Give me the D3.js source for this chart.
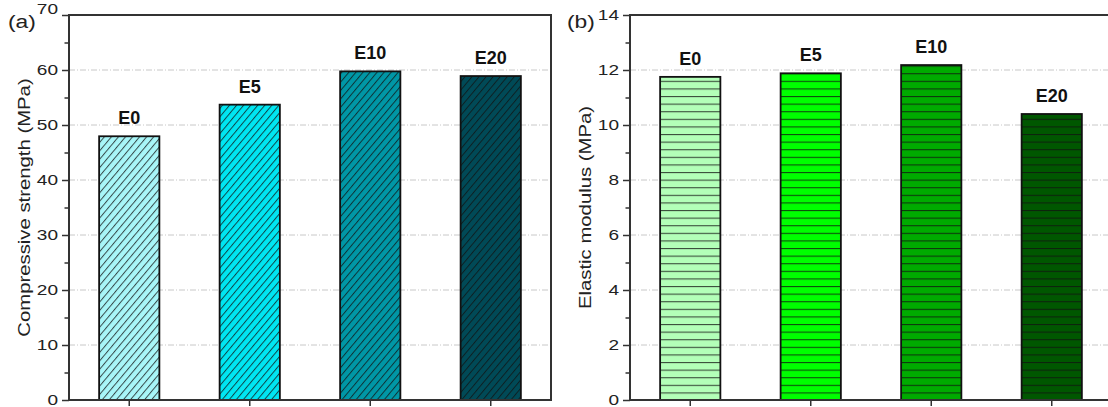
<!DOCTYPE html>
<html>
<head>
<meta charset="utf-8">
<script src="https://cdn.jsdelivr.net/npm/d3@7"></script>
<style>
  html, body { margin: 0; padding: 0; background: #fff; }
  svg { display: block; font-family: Arial, "Liberation Sans", sans-serif; }
</style>
</head>
<body>
<svg id="chart" width="1108" height="407"></svg>
<script>
// Mix designs shared by both panels
const categories = ["E0", "E5", "E10", "E20"];

// Panel (a): compressive strength, MPa
const strengthValues = [47.95, 53.7, 59.75, 58.9];
const strengthTicks = [0, 10, 20, 30, 40, 50, 60, 70];
const strengthColors = ["#a8f6f8", "#00e6f2", "#0097a6", "#004a57"];

// Panel (b): elastic modulus
const modulusValues = [11.75, 11.88, 12.18, 10.4];
const modulusTicks = [0, 2, 4, 6, 8, 10, 12, 14];
const modulusColors = ["#b3ffb8", "#00ff00", "#00ab00", "#005700"];

const FONT = "Arial, 'Liberation Sans', sans-serif";
const STRETCH = 1.27;   // wide setting of the regular-weight text

const svg = d3.select("#chart");
const defs = svg.append("defs");

// Diagonal hatch for panel (a)
const dw = 5.4;
strengthColors.forEach((c, i) => {
  const p = defs.append("pattern")
    .attr("id", "diag" + i)
    .attr("patternUnits", "userSpaceOnUse")
    .attr("width", dw).attr("height", dw)
    .attr("patternTransform", "rotate(40)");
  p.append("rect").attr("width", dw).attr("height", dw).attr("fill", c);
  p.append("line").attr("x1", 0.5).attr("y1", 0).attr("x2", 0.5).attr("y2", dw)
    .attr("stroke", "#111").attr("stroke-width", 1).attr("stroke-opacity", 0.75);
});

// Horizontal hatch for panel (b)
modulusColors.forEach((c, i) => {
  const p = defs.append("pattern")
    .attr("id", "horiz" + i)
    .attr("patternUnits", "userSpaceOnUse")
    .attr("width", 10).attr("height", 7.6)
    .attr("y", 400);
  p.append("rect").attr("width", 10).attr("height", 7.6).attr("fill", c);
  p.append("line").attr("x1", 0).attr("x2", 10).attr("y1", 0.5).attr("y2", 0.5)
    .attr("stroke", "#111").attr("stroke-width", 1.2).attr("stroke-opacity", 0.75);
});

function panel(opts) {
  const { left, right, top, bottom, values, ticks, fill, tag, ylabel, tagX, topLabelLift } = opts;
  const g = svg.append("g");

  const x = d3.scaleBand().domain(categories).range([left, right]).paddingInner(0.5).paddingOuter(0.25);
  const y = d3.scaleLinear().domain([ticks[0], ticks[ticks.length - 1]]).range([bottom, top]);

  // dashed grid lines at major ticks
  g.append("g").selectAll("line")
    .data(ticks.slice(1, -1))
    .join("line")
    .attr("x1", left).attr("x2", right)
    .attr("y1", d => y(d)).attr("y2", d => y(d))
    .attr("stroke", "#c8c8c8").attr("stroke-width", 1)
    .attr("stroke-dasharray", "6,2,1,2");

  // bars
  g.append("g").selectAll("rect")
    .data(values)
    .join("rect")
    .attr("x", (d, i) => x(categories[i]))
    .attr("width", x.bandwidth())
    .attr("y", d => y(d))
    .attr("height", d => y(0) - y(d))
    .attr("fill", (d, i) => `url(#${fill}${i})`)
    .attr("stroke", "#111").attr("stroke-width", 1.8);

  // bar labels
  g.append("g").selectAll("text")
    .data(values)
    .join("text")
    .attr("x", (d, i) => x(categories[i]) + x.bandwidth() / 2)
    .attr("y", d => y(d) - 12)
    .attr("text-anchor", "middle")
    .attr("font-size", 18).attr("font-weight", "bold").attr("fill", "#111")
    .text((d, i) => categories[i]);

  // left axis with minor ticks
  const minor = [];
  for (let k = 0; k < ticks.length - 1; k++) minor.push((ticks[k] + ticks[k + 1]) / 2);
  g.append("g").attr("transform", `translate(${left},0)`)
    .call(d3.axisLeft(y).tickValues(minor).tickSize(4.5).tickFormat(""))
    .call(s => s.select(".domain").remove())
    .call(s => s.selectAll("line").attr("stroke", "#333").attr("stroke-width", 1.5));
  const tickSize = 7, pad = 4;
  g.append("g").attr("transform", `translate(${left},0)`)
    .call(d3.axisLeft(y).tickValues(ticks).tickSize(tickSize).tickPadding(pad))
    .call(s => s.select(".domain").remove())
    .call(s => s.selectAll("line").attr("stroke", "#333").attr("stroke-width", 1.5))
    .call(s => s.selectAll("text")
      .attr("font-size", 15).attr("fill", "#222").attr("font-family", FONT)
      .attr("x", -(tickSize + pad) / STRETCH)
      .attr("transform", d => `translate(0,${d === ticks[ticks.length - 1] ? -topLabelLift : 0}) scale(${STRETCH},1)`));

  // bottom axis ticks at bar centres
  g.append("g").attr("transform", `translate(0,${bottom})`)
    .call(d3.axisBottom(x).tickSize(6).tickFormat(""))
    .call(s => s.select(".domain").remove())
    .call(s => s.selectAll("line").attr("stroke", "#333").attr("stroke-width", 1.5));

  // frame
  g.append("rect")
    .attr("x", left).attr("y", top)
    .attr("width", right - left).attr("height", bottom - top)
    .attr("fill", "none").attr("stroke", "#333").attr("stroke-width", 2);

  // y title
  g.append("text")
    .attr("transform", `translate(${left - 39},${(top + bottom) / 2}) rotate(-90) scale(${STRETCH},1)`)
    .attr("text-anchor", "middle")
    .attr("font-size", 16).attr("fill", "#222")
    .text(ylabel);

  // panel tag
  g.append("text")
    .attr("transform", `translate(${tagX},28) scale(1.2,1)`)
    .attr("font-size", 19).attr("fill", "#222")
    .text(tag);
}

panel({
  left: 69, right: 551, top: 15, bottom: 400,
  values: strengthValues, ticks: strengthTicks, fill: "diag",
  tag: "(a)", tagX: 8, ylabel: "Compressive strength (MPa)", topLabelLift: 6
});

panel({
  left: 630, right: 1112, top: 15, bottom: 400,
  values: modulusValues, ticks: modulusTicks, fill: "horiz",
  tag: "(b)", tagX: 567, ylabel: "Elastic modulus (MPa)", topLabelLift: 0
});
</script>
</body>
</html>
